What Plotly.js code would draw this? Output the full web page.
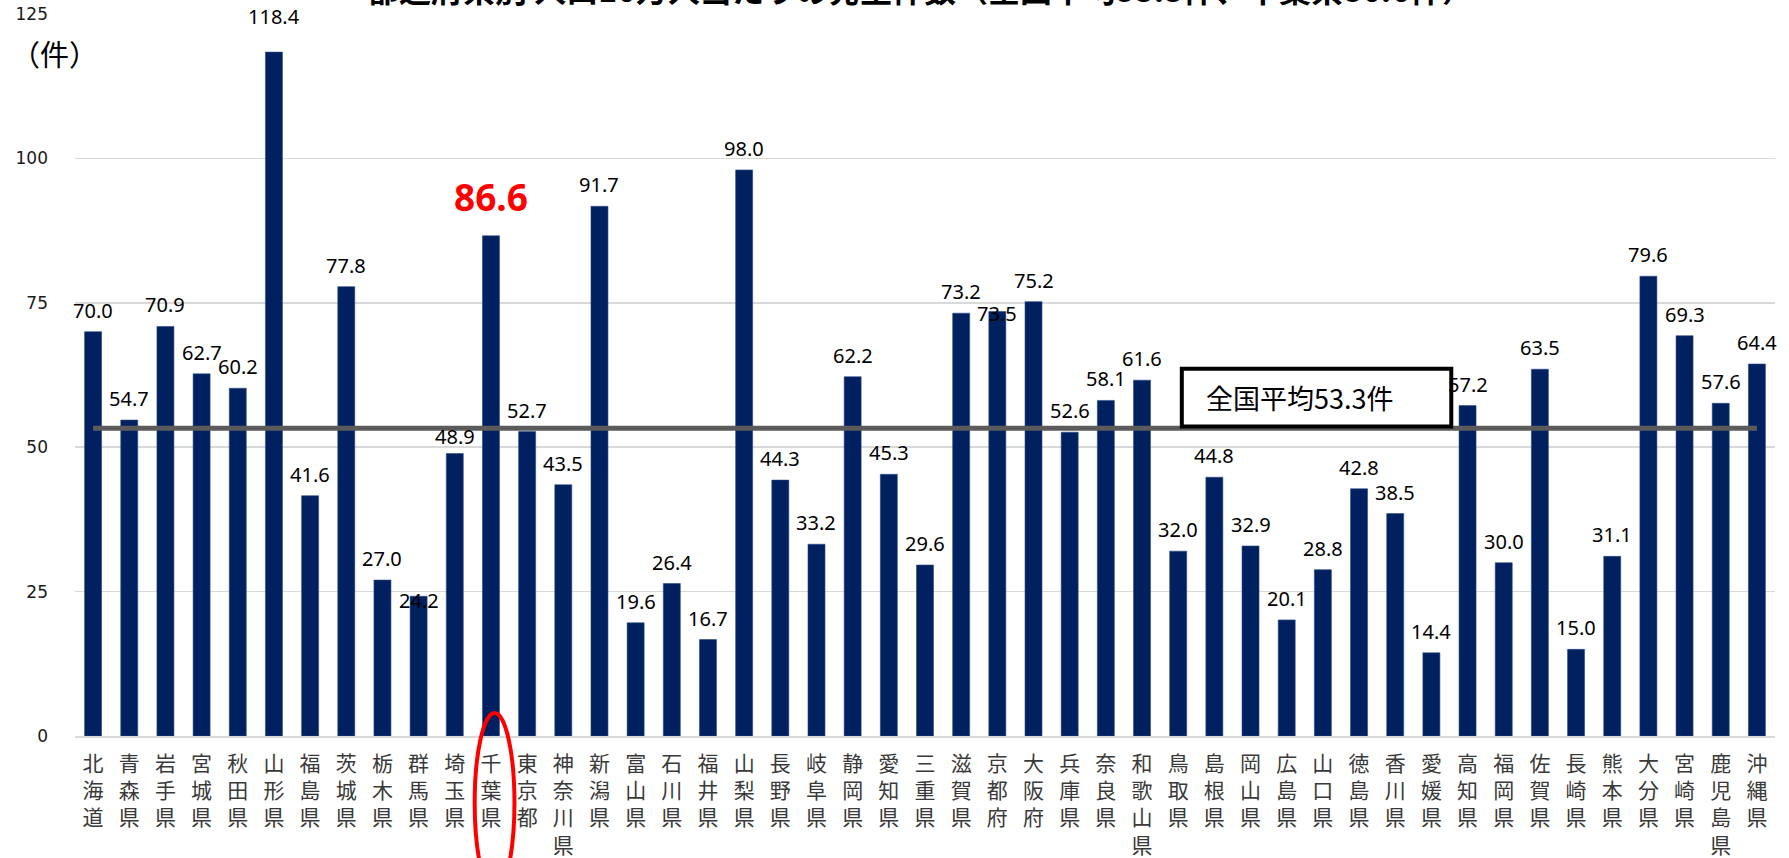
<!DOCTYPE html>
<html>
<head>
<meta charset="utf-8">
<script src="https://cdn.plot.ly/plotly-3.0.1.min.js"></script>
<style>
html,body{margin:0;padding:0;background:#fff;}
#chart{width:1789px;height:858px;}
</style>
</head>
<body>
<div id="chart"></div>
<script>
// ---- data ----
const categories = ["北海道","青森県","岩手県","宮城県","秋田県","山形県","福島県","茨城県","栃木県","群馬県","埼玉県","千葉県","東京都","神奈川県","新潟県","富山県","石川県","福井県","山梨県","長野県","岐阜県","静岡県","愛知県","三重県","滋賀県","京都府","大阪府","兵庫県","奈良県","和歌山県","鳥取県","島根県","岡山県","広島県","山口県","徳島県","香川県","愛媛県","高知県","福岡県","佐賀県","長崎県","熊本県","大分県","宮崎県","鹿児島県","沖縄県"];
const values = [70.0,54.7,70.9,62.7,60.2,118.4,41.6,77.8,27.0,24.2,48.9,86.6,52.7,43.5,91.7,19.6,26.4,16.7,98.0,44.3,33.2,62.2,45.3,29.6,73.2,73.5,75.2,52.6,58.1,61.6,32.0,44.8,32.9,20.1,28.8,42.8,38.5,14.4,57.2,30.0,63.5,15.0,31.1,79.6,69.3,57.6,64.4];
const nationalAverage = 53.3;
const yTickValues = [0,25,50,75,100,125];
const highlighted = "千葉県";
const averageLabel = "全国平均" + nationalAverage.toFixed(1) + "件";
const yUnitLabel = "（件）";
const titleText = "都道府県別 人口10万人当たりの発生件数（全国平均53.3件、千葉県86.6件）";

// ---- styling (not data) ----
const labelShift = {"山形県": 14, "群馬県": -26, "埼玉県": -4, "京都府": -24, "千葉県": 6};

const tickText = categories.map(c => c.split("").join("<br>"));

const bars = {
  type: "bar",
  x: categories,
  y: values,
  marker: {color: "#002060", line: {color: "#2c4a85", width: 0.6}},
  hoverinfo: "x+y",
  showlegend: false
};

const avgLine = {
  type: "scatter",
  mode: "lines",
  x: [categories[0], categories[categories.length - 1]],
  y: [nationalAverage, nationalAverage],
  line: {color: "#5b5b5b", width: 5},
  hoverinfo: "skip",
  showlegend: false
};

const annotations = categories.map((c, i) => {
  const isHi = c === highlighted;
  return {
    x: c, y: values[i], xref: "x", yref: "y",
    text: values[i].toFixed(1),
    showarrow: false,
    yanchor: "bottom",
    yshift: 6 + (labelShift[c] || 0),
    font: isHi ? {family: "Noto Sans, sans-serif", size: 37, color: "#ff0000", weight: 700}
               : {family: "Noto Sans, sans-serif", size: 20, color: "#000000"}
  };
});

const plotW = 1789 - 75 - 14, plotH = 858 - 14 - 122;

// average box text
annotations.push({
  x: 30.7, y: 58.6, xref: "x", yref: "y",
  xanchor: "left", yanchor: "middle",
  text: averageLabel, showarrow: false,
  font: {family: "Noto Sans CJK JP, sans-serif", size: 27, color: "#000000"}
});
// unit label
annotations.push({
  x: (9 - 75) / plotW, y: (736 - 53) / plotH, xref: "paper", yref: "paper",
  xanchor: "left", yanchor: "middle",
  text: yUnitLabel, showarrow: false,
  font: {family: "Noto Sans CJK JP, sans-serif", size: 29, color: "#000000"}
});
// clipped title at top
annotations.push({
  x: (365 - 75) / plotW, y: 1, xref: "paper", yref: "paper",
  xanchor: "left", yanchor: "bottom", yshift: 1,
  text: "<b>" + titleText + "</b>", showarrow: false,
  font: {family: "Noto Sans CJK JP, sans-serif", size: 32, color: "#000000"}
});

const hiIndex = categories.indexOf(highlighted);

const layout = {
  width: 1789, height: 858,
  margin: {l: 75, r: 14, t: 14, b: 122, pad: 0},
  paper_bgcolor: "#ffffff", plot_bgcolor: "#ffffff",
  bargap: 0.53,
  showlegend: false,
  xaxis: {
    type: "category",
    tickvals: categories, ticktext: tickText,
    range: [-0.5, categories.length - 0.5],
    showgrid: false, zeroline: false,
    showline: true, linecolor: "#d9d9d9", linewidth: 1.5,
    ticks: "", ticklabelstandoff: 8,
    tickfont: {family: "Noto Sans CJK JP, sans-serif", size: 21, color: "#3a3a3a"},
    fixedrange: true
  },
  yaxis: {
    range: [0, 125],
    tickvals: yTickValues,
    ticktext: yTickValues.map(String),
    showgrid: true, gridcolor: "#d9d9d9", gridwidth: 1.5,
    zeroline: false, showline: false,
    ticks: "", ticklabelstandoff: 26,
    tickfont: {family: "DejaVu Sans, sans-serif", size: 17, color: "#1a1a1a"},
    fixedrange: true
  },
  shapes: [
    {
      type: "rect", xref: "x", yref: "y", layer: "above",
      x0: 30.1, x1: 37.55, y0: 53.6, y1: 63.6,
      line: {color: "#000000", width: 4}, fillcolor: "#ffffff"
    },
    {
      type: "circle", xref: "paper", yref: "paper", layer: "above",
      x0: (hiIndex + 0.6 - 0.55) / categories.length, x1: (hiIndex + 0.6 + 0.55) / categories.length,
      y0: -0.217, y1: 0.032,
      line: {color: "#ff0000", width: 4}
    }
  ],
  annotations: annotations
};

Plotly.newPlot("chart", [bars, avgLine], layout, {displayModeBar: false, staticPlot: true});
</script>
</body>
</html>
